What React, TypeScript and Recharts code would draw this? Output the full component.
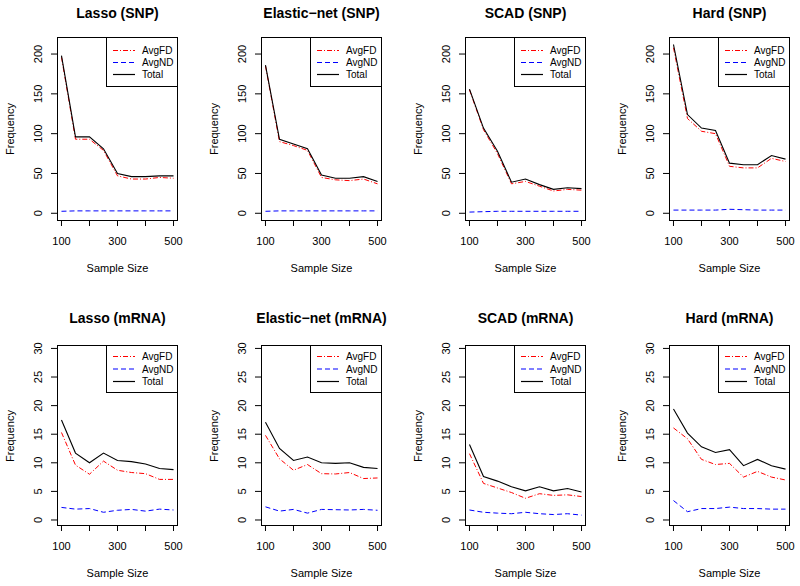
import React from 'react'
import { LineChart, Line, XAxis, YAxis } from 'recharts'

const sampleSizes = [100, 150, 200, 250, 300, 350, 400, 450, 500]
const xTicks = [100, 200, 300, 400, 500]
const xLabelled = [100, 300, 500]
const snpTicks = [0, 50, 100, 150, 200]
const mrnaTicks = [0, 5, 10, 15, 20, 25, 30]

// SNP panels
const lassoSnpFD = [196, 93, 93, 79, 47, 43, 43, 45, 44]
const lassoSnpND = [2.5, 3, 3, 3, 3, 3, 3, 3, 3]
const lassoSnpTotal = [198, 96, 96, 81, 50, 46, 46, 47, 47]

const enetSnpFD = [185, 90, 85, 79, 45, 42, 41, 43, 37]
const enetSnpND = [2.5, 3, 3, 3, 3, 3, 3, 3, 3]
const enetSnpTotal = [186, 93, 87, 81, 48, 44, 44, 46, 40]

const scadSnpFD = [155, 105, 75, 37, 40, 34, 28, 30, 29]
const scadSnpND = [1.5, 2, 2.5, 2.5, 2.5, 2.5, 2.5, 2.5, 2.5]
const scadSnpTotal = [156, 107, 78, 39, 43, 36, 30, 32, 31]

const hardSnpFD = [208, 119, 103, 100, 59, 57, 57, 69, 65]
const hardSnpND = [4, 4, 4, 4, 5, 4.5, 4, 4, 4]
const hardSnpTotal = [212, 124, 107, 104, 63, 61, 61, 72.5, 68]

// mRNA panels
const lassoMrnaFD = [15.3, 9.6, 8.0, 10.3, 8.7, 8.3, 8.1, 7.1, 7.1]
const lassoMrnaND = [2.2, 1.9, 2.0, 1.35, 1.7, 1.85, 1.55, 1.9, 1.75]
const lassoMrnaTotal = [17.5, 11.7, 10.0, 11.7, 10.4, 10.2, 9.8, 9.0, 8.8]

const enetMrnaFD = [14.8, 10.7, 8.7, 9.7, 8.1, 8.05, 8.3, 7.25, 7.35]
const enetMrnaND = [2.3, 1.55, 1.85, 1.2, 1.85, 1.8, 1.75, 1.85, 1.7]
const enetMrnaTotal = [17.1, 12.5, 10.4, 11.0, 10.0, 9.9, 10.0, 9.2, 9.0]

const scadMrnaFD = [11.6, 6.4, 5.6, 4.8, 3.8, 4.6, 4.3, 4.4, 4.1]
const scadMrnaND = [1.75, 1.35, 1.2, 1.1, 1.35, 1.1, 0.95, 1.1, 0.85]
const scadMrnaTotal = [13.2, 7.6, 6.8, 5.8, 5.1, 5.8, 5.1, 5.5, 4.9]

const hardMrnaFD = [16.1, 14.2, 10.6, 9.7, 9.9, 7.5, 8.5, 7.5, 7.0]
const hardMrnaND = [3.4, 1.45, 2.0, 2.0, 2.25, 2.0, 2.0, 1.9, 1.9]
const hardMrnaTotal = [19.4, 15.2, 12.8, 11.8, 12.3, 9.5, 10.6, 9.5, 8.9]

const FONT = '"Liberation Sans", Arial, Helvetica, sans-serif'
const BOX_W = 121
const COL_LEFT = [57, 261, 465, 669]

const rows = [
  { top: 37, h: 184, titleY: 13, domain: [-9.7, 221.4], ticks: snpTicks, legH: 50, legY0: 13.5, legStep: 12 },
  { top: 345, h: 181, titleY: 318, domain: [-1.05, 30.6], ticks: mrnaTicks, legH: 48, legY0: 11.5, legStep: 12.5 },
]

const panels = [
  { title: 'Lasso (SNP)', fd: lassoSnpFD, nd: lassoSnpND, total: lassoSnpTotal, row: 0, col: 0 },
  { title: 'Elastic\u2212net (SNP)', fd: enetSnpFD, nd: enetSnpND, total: enetSnpTotal, row: 0, col: 1 },
  { title: 'SCAD (SNP)', fd: scadSnpFD, nd: scadSnpND, total: scadSnpTotal, row: 0, col: 2 },
  { title: 'Hard (SNP)', fd: hardSnpFD, nd: hardSnpND, total: hardSnpTotal, row: 0, col: 3 },
  { title: 'Lasso (mRNA)', fd: lassoMrnaFD, nd: lassoMrnaND, total: lassoMrnaTotal, row: 1, col: 0 },
  { title: 'Elastic\u2212net (mRNA)', fd: enetMrnaFD, nd: enetMrnaND, total: enetMrnaTotal, row: 1, col: 1 },
  { title: 'SCAD (mRNA)', fd: scadMrnaFD, nd: scadMrnaND, total: scadMrnaTotal, row: 1, col: 2 },
  { title: 'Hard (mRNA)', fd: hardMrnaFD, nd: hardMrnaND, total: hardMrnaTotal, row: 1, col: 3 },
]

const FD_DASH = '5 2 1 2'
const ND_DASH = '5 3'

const XTick = (props: any) => {
  const { x, y, payload } = props
  if (!xLabelled.includes(payload.value)) return <g />
  return (
    <text x={x} y={y + 13} textAnchor="middle" dominantBaseline="central" fontSize={11} fill="#000" fontFamily={FONT}>
      {payload.value}
    </text>
  )
}

const YTick = (props: any) => {
  const { x, y, payload } = props
  const cx = x - 11
  return (
    <text x={cx} y={y} transform={`rotate(-90, ${cx}, ${y})`} textAnchor="middle" dominantBaseline="central" fontSize={11} fill="#000" fontFamily={FONT}>
      {payload.value}
    </text>
  )
}

function Panel({ p }: { p: (typeof panels)[number] }) {
  const r = rows[p.row]
  const L = COL_LEFT[p.col]
  const T = r.top
  const data = sampleSizes.map((n, i) => ({ n, fd: p.fd[i], nd: p.nd[i], total: p.total[i] }))
  const cx = L + BOX_W / 2
  const legW = BOX_W - 49

  return (
    <>
      <div style={{ position: 'absolute', left: cx - 100, top: r.titleY - 9, width: 200, height: 18, lineHeight: '18px', textAlign: 'center', fontSize: 14, fontWeight: 'bold', fontFamily: FONT, whiteSpace: 'nowrap' }}>
        {p.title}
      </div>
      <div style={{ position: 'absolute', left: L - 60, top: T - 10 }}>
        <LineChart width={60 + BOX_W + 10} height={10 + r.h + 40} data={data} margin={{ top: 10, right: 10, bottom: 10, left: 0 }}>
          <XAxis
            dataKey="n"
            type="number"
            domain={[84, 516]}
            ticks={xTicks}
            allowDataOverflow
            height={30}
            axisLine={false}
            tickSize={5}
            tickLine={{ stroke: '#000' }}
            tick={<XTick />}
            interval={0}
          />
          <YAxis
            type="number"
            domain={r.domain}
            ticks={r.ticks}
            allowDataOverflow
            width={60}
            axisLine={false}
            tickSize={6}
            tickLine={{ stroke: '#000' }}
            tick={<YTick />}
            interval={0}
          />
          <Line dataKey="fd" stroke="#FF0000" strokeWidth={1} strokeDasharray={FD_DASH} dot={false} isAnimationActive={false} type="linear" />
          <Line dataKey="nd" stroke="#0000FF" strokeWidth={1} strokeDasharray={ND_DASH} dot={false} isAnimationActive={false} type="linear" />
          <Line dataKey="total" stroke="#000000" strokeWidth={1.1} dot={false} isAnimationActive={false} type="linear" />
        </LineChart>
      </div>
      <div style={{ position: 'absolute', left: L, top: T, width: BOX_W, height: r.h, border: '1px solid #000', boxSizing: 'border-box', pointerEvents: 'none' }} />
      <div style={{ position: 'absolute', left: L + 49, top: T, width: legW, height: r.legH, border: '1px solid #000', boxSizing: 'border-box', background: '#fff' }}>
        <svg width={legW} height={r.legH} style={{ position: 'absolute', left: -1, top: -1 }}>
          {[
            { label: 'AvgFD', color: '#FF0000', dash: FD_DASH },
            { label: 'AvgND', color: '#0000FF', dash: ND_DASH },
            { label: 'Total', color: '#000000', dash: undefined },
          ].map((e, i) => {
            const y = r.legY0 + i * r.legStep
            return (
              <g key={e.label}>
                <line x1={7} x2={29} y1={y} y2={y} stroke={e.color} strokeWidth={1.2} strokeDasharray={e.dash} />
                <text x={36} y={y} dominantBaseline="central" fontSize={10} fontFamily={FONT} fill="#000">
                  {e.label}
                </text>
              </g>
            )
          })}
        </svg>
      </div>
      <div style={{ position: 'absolute', left: L - 97, top: T + r.h / 2 - 8, width: 100, height: 16, lineHeight: '16px', textAlign: 'center', fontSize: 11, fontFamily: FONT, transform: 'rotate(-90deg)' }}>
        Frequency
      </div>
      <div style={{ position: 'absolute', left: cx - 60, top: T + r.h + 47 - 8, width: 120, height: 16, lineHeight: '16px', textAlign: 'center', fontSize: 11, fontFamily: FONT }}>
        Sample Size
      </div>
    </>
  )
}

export default function App() {
  return (
    <div style={{ position: 'absolute', left: 0, top: 0, width: 800, height: 586, background: '#fff', overflow: 'hidden' }}>
      {panels.map((p) => (
        <Panel key={p.title} p={p} />
      ))}
    </div>
  )
}
